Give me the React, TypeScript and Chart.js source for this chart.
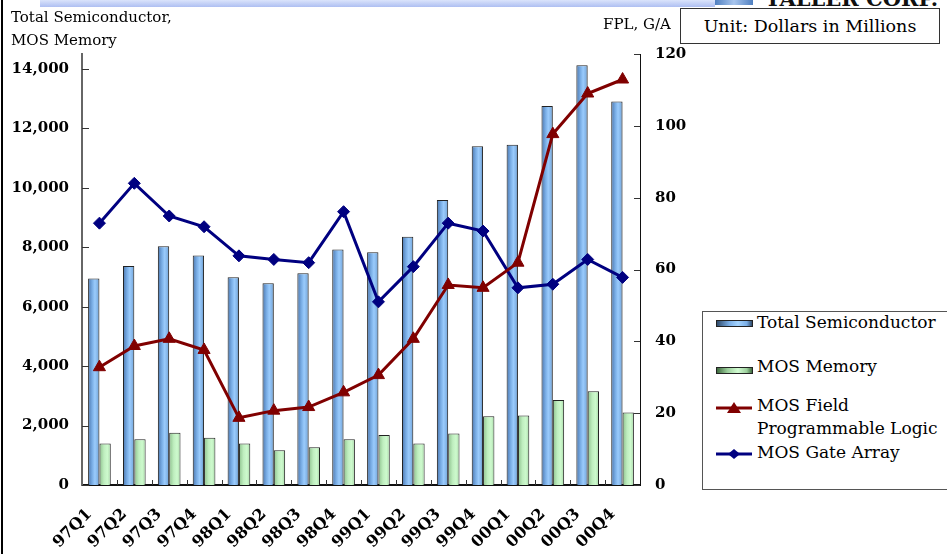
import React, { useEffect, useRef } from "react";
import { Chart, registerables } from "chart.js";

Chart.register(...registerables);

const categories = ["97Q1", "97Q2", "97Q3", "97Q4", "98Q1", "98Q2", "98Q3", "98Q4", "99Q1", "99Q2", "99Q3", "99Q4", "00Q1", "00Q2", "00Q3", "00Q4"];
const totalSemiconductor = [6950, 7370, 8030, 7720, 6990, 6790, 7120, 7920, 7830, 8350, 9590, 11400, 11450, 12750, 14120, 12900];
const mosMemory = [1400, 1540, 1760, 1590, 1400, 1170, 1270, 1540, 1680, 1400, 1730, 2310, 2340, 2860, 3150, 2440];
const mosFpl = [32.8, 38.7, 40.7, 37.6, 18.7, 20.7, 21.7, 25.8, 30.6, 40.7, 55.7, 54.9, 61.9, 97.7, 109.0, 112.9];
const mosGateArray = [72.9, 84.0, 74.9, 71.9, 63.8, 62.8, 61.9, 76.1, 51.0, 60.8, 72.9, 70.7, 54.9, 55.9, 62.8, 57.8];
const leftTicks = [0, 2000, 4000, 6000, 8000, 10000, 12000, 14000];
const rightTicks = [0, 20, 40, 60, 80, 100, 120];
const leftMax = 14500;
const rightMax = 120;

const SERIF = '"DejaVu Serif", "Liberation Serif", serif';
const CAT_PCT = 0.65;

function barGradient(c: any, stops: [number, string][], side: number, fallback: string) {
  const chart = c.chart;
  const x = chart.scales && chart.scales.x;
  if (!x || !chart.chartArea || c.dataIndex === undefined) return fallback;
  const center = x.getPixelForValue(c.dataIndex);
  const catW = x.width / categories.length;
  const bw = (catW * CAT_PCT) / 2;
  const left = side < 0 ? center - bw : center;
  const g = chart.ctx.createLinearGradient(left, 0, left + bw, 0);
  stops.forEach(([p, col]) => g.addColorStop(p, col));
  return g;
}

const innerTicks = {
  id: "innerTicks",
  afterDatasetsDraw(chart: any) {
    const { ctx, chartArea } = chart;
    const y = chart.scales.y;
    const y1 = chart.scales.y1;
    const x = chart.scales.x;
    ctx.save();
    ctx.lineWidth = 1;
    ctx.strokeStyle = "#333";
    leftTicks.forEach((v) => {
      const py = Math.round(y.getPixelForValue(v)) + 0.5;
      ctx.beginPath();
      ctx.moveTo(chartArea.left, py);
      ctx.lineTo(chartArea.left + 7, py);
      ctx.stroke();
    });
    rightTicks.forEach((v) => {
      const py = Math.round(y1.getPixelForValue(v)) + 0.5;
      ctx.beginPath();
      ctx.moveTo(chartArea.right - 6, py);
      ctx.lineTo(chartArea.right, py);
      ctx.stroke();
    });
    for (let i = 1; i < categories.length; i++) {
      const px = Math.round(x.getPixelForValue(i - 0.5)) + 0.5;
      ctx.beginPath();
      ctx.moveTo(px, chartArea.bottom);
      ctx.lineTo(px, chartArea.bottom - 5);
      ctx.stroke();
    }
    ctx.restore();
  },
};

function ChartCanvas() {
  const ref = useRef<HTMLCanvasElement | null>(null);
  useEffect(() => {
    if (!ref.current) return;
    const chart = new Chart(ref.current, {
      type: "bar",
      data: {
        labels: categories,
        datasets: [
          {
            type: "line",
            label: "MOS Field Programmable Logic",
            data: mosFpl,
            yAxisID: "y1",
            borderColor: "#800000",
            backgroundColor: "#800000",
            borderWidth: 3,
            pointStyle: "triangle",
            pointRadius: 7,
            pointBorderWidth: 1,
            tension: 0,
            order: 0,
          },
          {
            type: "line",
            label: "MOS Gate Array",
            data: mosGateArray,
            yAxisID: "y1",
            borderColor: "#000080",
            backgroundColor: "#000080",
            borderWidth: 3,
            pointStyle: "rectRot",
            pointRadius: 6,
            pointBorderWidth: 1,
            tension: 0,
            order: 1,
          },
          {
            type: "bar",
            label: "Total Semiconductor",
            data: totalSemiconductor,
            yAxisID: "y",
            backgroundColor: (c: any) =>
              barGradient(c, [[0, "#2f4a6a"], [0.12, "#5a88c0"], [0.35, "#78ace4"], [0.6, "#9acbfc"], [0.85, "#80b2e6"], [1, "#34506e"]], -1, "#8dbdf0"),
            borderColor: "#222",
            borderWidth: 1,
            categoryPercentage: CAT_PCT,
            barPercentage: 1,
            order: 2,
          },
          {
            type: "bar",
            label: "MOS Memory",
            data: mosMemory,
            yAxisID: "y",
            backgroundColor: (c: any) =>
              barGradient(c, [[0, "#3e6a3e"], [0.12, "#9ccf9c"], [0.4, "#bfeebf"], [0.7, "#cdfacd"], [1, "#a8d8a8"]], 1, "#c4f2c4"),
            borderColor: "#222",
            borderWidth: 1,
            categoryPercentage: CAT_PCT,
            barPercentage: 1,
            order: 3,
          },
        ],
      },
      options: {
        responsive: false,
        animation: false,
        layout: { padding: { top: 54, left: 0, right: 0, bottom: 0 } },
        plugins: {
          legend: { display: false },
          tooltip: { enabled: false },
        },
        scales: {
          x: {
            type: "category",
            offset: true,
            grid: { display: false, drawTicks: false },
            border: { display: true, color: "#111", width: 2 },
            ticks: {
              autoSkip: false,
              maxRotation: 45,
              minRotation: 45,
              color: "#000",
              padding: 20,
              labelOffset: -10,
              font: { family: SERIF, size: 16, weight: "bold" },
            },
            afterFit: (s: any) => {
              s.height = 69;
            },
          },
          y: {
            position: "left",
            min: 0,
            max: leftMax,
            grid: { display: false, drawTicks: false },
            border: { display: true, color: "#666", width: 2 },
            ticks: {
              autoSkip: false,
              color: "#000",
              padding: 13,
              font: { family: SERIF, size: 15, weight: "bold" },
              callback: (v: any) => Number(v).toLocaleString("en-US"),
            },
            afterBuildTicks: (s: any) => {
              s.ticks = leftTicks.map((v) => ({ value: v }));
            },
            afterFit: (s: any) => {
              s.width = 82;
            },
          },
          y1: {
            position: "right",
            min: 0,
            max: rightMax,
            grid: { display: false, drawTicks: false },
            border: { display: true, color: "#111", width: 1 },
            ticks: {
              autoSkip: false,
              color: "#000",
              padding: 15,
              font: { family: SERIF, size: 15, weight: "bold" },
            },
            afterBuildTicks: (s: any) => {
              s.ticks = rightTicks.map((v) => ({ value: v }));
            },
            afterFit: (s: any) => {
              s.width = 307;
            },
          },
        },
      },
      plugins: [innerTicks],
    });
    chart.update();
    return () => chart.destroy();
  }, []);
  return <canvas ref={ref} width={947} height={554} style={{ position: "absolute", left: 0, top: 0 }} />;
}

const legendText: React.CSSProperties = {
  position: "absolute",
  left: 757,
  fontFamily: SERIF,
  fontSize: 17,
  lineHeight: "23px",
  color: "#000",
  whiteSpace: "nowrap",
};

function LineIcon({ color, marker, top }: { color: string; marker: "triangle" | "diamond"; top: number }) {
  return (
    <svg width={38} height={16} style={{ position: "absolute", left: 715, top: top - 8 }}>
      <line x1={1} y1={8} x2={37} y2={8} stroke={color} strokeWidth={3} />
      {marker === "triangle" ? (
        <polygon points="19,2 26,13 12,13" fill={color} />
      ) : (
        <polygon points="19,3 25,8 19,13 13,8" fill={color} />
      )}
    </svg>
  );
}

export default function App() {
  return (
    <div style={{ position: "fixed", left: 0, top: 0, width: 947, height: 554, overflow: "hidden", background: "#fff" }}>
      <div style={{ position: "absolute", left: 40, top: 0, width: 675, height: 7, background: "linear-gradient(to bottom, #dbe4fb, #aebff2)" }} />
      <div style={{ position: "absolute", left: 715, top: 0, width: 38, height: 5, background: "linear-gradient(to right, #4f7fc0, #a9c6ee, #4f7fc0)" }} />
      <div style={{ position: "absolute", left: 765, top: -14, fontFamily: SERIF, fontWeight: "bold", fontSize: 21, lineHeight: "26px", color: "#111", whiteSpace: "nowrap" }}>TALLER CORP.</div>
      <div style={{ position: "absolute", left: 1, top: 0, width: 2, height: 554, background: "#000" }} />
      <ChartCanvas />
      <div style={{ position: "absolute", left: 11, top: 6, fontFamily: SERIF, fontSize: 15, lineHeight: "23px", color: "#000", whiteSpace: "nowrap" }}>
        Total Semiconductor,
        <br />
        MOS Memory
      </div>
      <div style={{ position: "absolute", left: 603, top: 14, fontFamily: SERIF, fontSize: 15, lineHeight: "20px", color: "#000", whiteSpace: "nowrap" }}>FPL, G/A</div>
      <div style={{ position: "absolute", left: 680, top: 8, width: 258, height: 34, border: "1px solid #333", background: "#fff", fontFamily: SERIF, fontSize: 17.5, lineHeight: "34px", textAlign: "center", color: "#000", whiteSpace: "nowrap" }}>
        Unit: Dollars in Millions
      </div>
      <div style={{ position: "absolute", left: 702, top: 311, width: 260, height: 177, border: "1px solid #555", background: "#fff" }} />
      <div style={{ position: "absolute", left: 716, top: 320, width: 35, height: 5, border: "1px solid #222", background: "linear-gradient(to right, #2f4a6a, #7aaee6 35%, #a4d4ff 60%, #7aaee6 85%, #2f4a6a)" }} />
      <div style={{ ...legendText, top: 311 }}>Total Semiconductor</div>
      <div style={{ position: "absolute", left: 716, top: 367, width: 35, height: 5, border: "1px solid #222", background: "linear-gradient(to right, #3e6a3e, #9ccf9c 30%, #d2fcd2 60%, #9ccf9c 85%, #3e6a3e)" }} />
      <div style={{ ...legendText, top: 355 }}>MOS Memory</div>
      <LineIcon color="#800000" marker="triangle" top={408} />
      <div style={{ ...legendText, top: 394 }}>
        MOS Field
        <br />
        Programmable Logic
      </div>
      <LineIcon color="#000080" marker="diamond" top={454} />
      <div style={{ ...legendText, top: 441 }}>MOS Gate Array</div>
    </div>
  );
}
